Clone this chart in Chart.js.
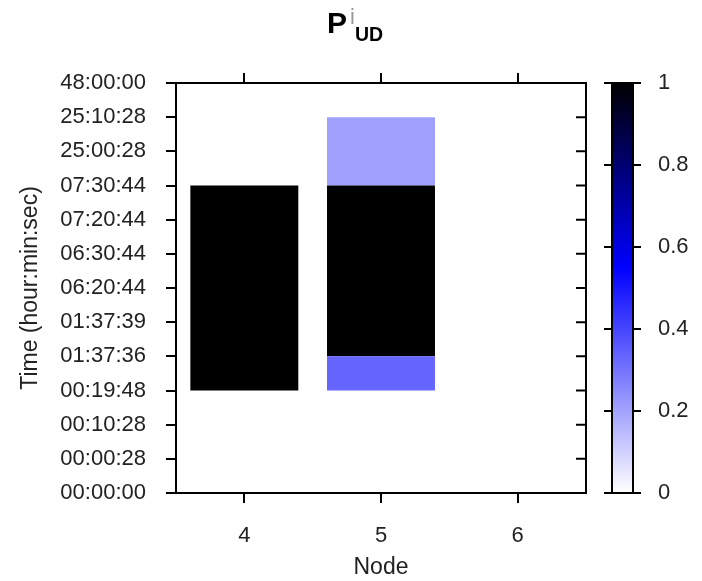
<!DOCTYPE html>
<html>
<head>
<meta charset="utf-8">
<script src="https://cdn.jsdelivr.net/npm/chart.js@4"></script>
<style>
  html, body { margin: 0; padding: 0; background: #fff; }
  #wrap { position: relative; width: 702px; height: 581px; }
  #mainChart { position: absolute; left: 0; top: 0; }
  #barChart { position: absolute; left: 590px; top: 0; }
  .t { position: absolute; line-height: 1; font-family: "Liberation Sans", Arial, sans-serif; white-space: nowrap; }
</style>
</head>
<body>
<div id="wrap">
  <canvas id="mainChart" width="702" height="581"></canvas>
  <canvas id="barChart" width="112" height="581"></canvas>
  <span class="t" style="left:327px;top:8px;font-size:30px;font-weight:bold;">P</span>
  <span class="t" style="left:350px;top:6px;font-size:22px;color:#999;">i</span>
  <span class="t" style="left:355px;top:25px;font-size:19.5px;font-weight:bold;">UD</span>
</div>
<script>
// categories and tick labels
const nodes = ['4', '5', '6'];
const timeTicks = ['00:00:00', '00:00:28', '00:10:28', '00:19:48', '01:37:36', '01:37:39',
  '06:20:44', '06:30:44', '07:20:44', '07:30:44', '25:00:28', '25:10:28', '48:00:00'];

// cells: node, start tick index, end tick index, value
const cellNode  = ['4', '5', '5', '5'];
const cellStart = [3, 3, 4, 9];
const cellEnd   = [9, 4, 9, 11];
const cellValue = [1, 0.33, 1, 0.205];

// colour bar
const colorTicks = [0, 0.2, 0.4, 0.6, 0.8, 1];
const paletteStops = [0, 0.55, 1];
const paletteColors = [[255, 255, 255], [0, 0, 255], [0, 0, 0]];

function valueColor(v) {
  for (let i = 1; i < paletteStops.length; i++) {
    if (v <= paletteStops[i]) {
      const f = (v - paletteStops[i - 1]) / (paletteStops[i] - paletteStops[i - 1]);
      const a = paletteColors[i - 1], b = paletteColors[i];
      const c = a.map((x, k) => Math.round(x + (b[k] - x) * f));
      return `rgb(${c[0]}, ${c[1]}, ${c[2]})`;
    }
  }
  const l = paletteColors[paletteColors.length - 1];
  return `rgb(${l[0]}, ${l[1]}, ${l[2]})`;
}

const tickFont = { family: 'Liberation Sans', size: 22 };
const titleFont = { family: 'Liberation Sans', size: 23 };
const textColor = '#222';
const axisGrid = { display: true, offset: false, drawOnChartArea: false, drawTicks: true, tickLength: 10, color: '#000', lineWidth: 2 };
const axisBorder = { display: true, color: '#000', width: 2 };

// right side of the frame with inward ticks
const frameRight = {
  id: 'frameRight',
  afterDraw(chart) {
    const { ctx, chartArea } = chart;
    const y = chart.scales.y;
    ctx.save();
    ctx.strokeStyle = '#000';
    ctx.lineWidth = 2;
    ctx.beginPath();
    ctx.moveTo(chartArea.right, chartArea.top - 1);
    ctx.lineTo(chartArea.right, chartArea.bottom + 1);
    y.ticks.forEach(t => {
      const py = y.getPixelForValue(t.value);
      ctx.moveTo(chartArea.right - 10, py);
      ctx.lineTo(chartArea.right, py);
    });
    ctx.stroke();
    ctx.restore();
  }
};

new Chart(document.getElementById('mainChart'), {
  type: 'bar',
  data: {
    labels: nodes,
    datasets: cellNode.map((n, i) => ({
      data: [{ x: n, y: [cellStart[i], cellEnd[i]] }],
      backgroundColor: valueColor(cellValue[i]),
      borderWidth: 0,
      barPercentage: 1,
      categoryPercentage: 0.79
    }))
  },
  options: {
    responsive: false,
    animation: false,
    layout: { padding: { left: 0, top: 73, right: 116, bottom: 0 } },
    plugins: { legend: { display: false }, tooltip: { enabled: false } },
    scales: {
      x: {
        type: 'category',
        stacked: true,
        offset: true,
        grid: axisGrid,
        border: axisBorder,
        ticks: { color: textColor, font: tickFont, padding: 20 },
        title: { display: true, text: 'Node', color: textColor, font: titleFont, padding: { top: 0, bottom: 0 } },
        afterFit: s => { s.height = 88; }
      },
      x2: {
        type: 'category',
        position: 'top',
        offset: true,
        grid: axisGrid,
        border: axisBorder,
        ticks: { display: false },
        afterFit: s => { s.height = 10; }
      },
      y: {
        type: 'linear',
        stacked: false,
        min: 0,
        max: timeTicks.length - 1,
        grid: axisGrid,
        border: axisBorder,
        ticks: {
          stepSize: 1,
          color: textColor,
          font: tickFont,
          padding: 20,
          callback: v => timeTicks[v]
        },
        title: { display: true, text: 'Time (hour:min:sec)', color: textColor, font: titleFont, padding: { top: 17, bottom: 0 } },
        afterFit: s => { s.width = 176; }
      }
    }
  },
  plugins: [frameRight]
});

// colour bar frame with outward ticks on the left
const barFrame = {
  id: 'barFrame',
  afterDraw(chart) {
    const { ctx, chartArea } = chart;
    const y = chart.scales.y;
    ctx.save();
    ctx.strokeStyle = '#000';
    ctx.lineWidth = 2;
    ctx.strokeRect(chartArea.left, chartArea.top, chartArea.right - chartArea.left, chartArea.bottom - chartArea.top);
    ctx.beginPath();
    y.ticks.forEach(t => {
      const py = y.getPixelForValue(t.value);
      ctx.moveTo(chartArea.left - 8, py);
      ctx.lineTo(chartArea.left, py);
    });
    ctx.stroke();
    ctx.restore();
  }
};

new Chart(document.getElementById('barChart'), {
  type: 'bar',
  data: {
    labels: ['palette'],
    datasets: [{
      data: [[0, 1]],
      borderWidth: 0,
      barPercentage: 1,
      categoryPercentage: 1,
      backgroundColor: c => {
        const area = c.chart.chartArea;
        if (!area) return '#00f';
        const g = c.chart.ctx.createLinearGradient(0, area.bottom, 0, area.top);
        paletteStops.forEach(s => g.addColorStop(s, valueColor(s)));
        return g;
      }
    }]
  },
  options: {
    responsive: false,
    animation: false,
    layout: { padding: { left: 22, top: 83, right: 0, bottom: 88 } },
    plugins: { legend: { display: false }, tooltip: { enabled: false } },
    scales: {
      x: { display: false },
      y: {
        position: 'right',
        min: 0,
        max: 1,
        grid: { display: true, drawOnChartArea: false, drawTicks: true, tickLength: 8, color: '#000', lineWidth: 2 },
        border: axisBorder,
        afterBuildTicks: s => { s.ticks = colorTicks.map(v => ({ value: v })); },
        ticks: { color: textColor, font: tickFont, padding: 17, callback: v => String(v) },
        afterFit: s => { s.width = 69; }
      }
    }
  },
  plugins: [barFrame]
});
</script>
</body>
</html>
